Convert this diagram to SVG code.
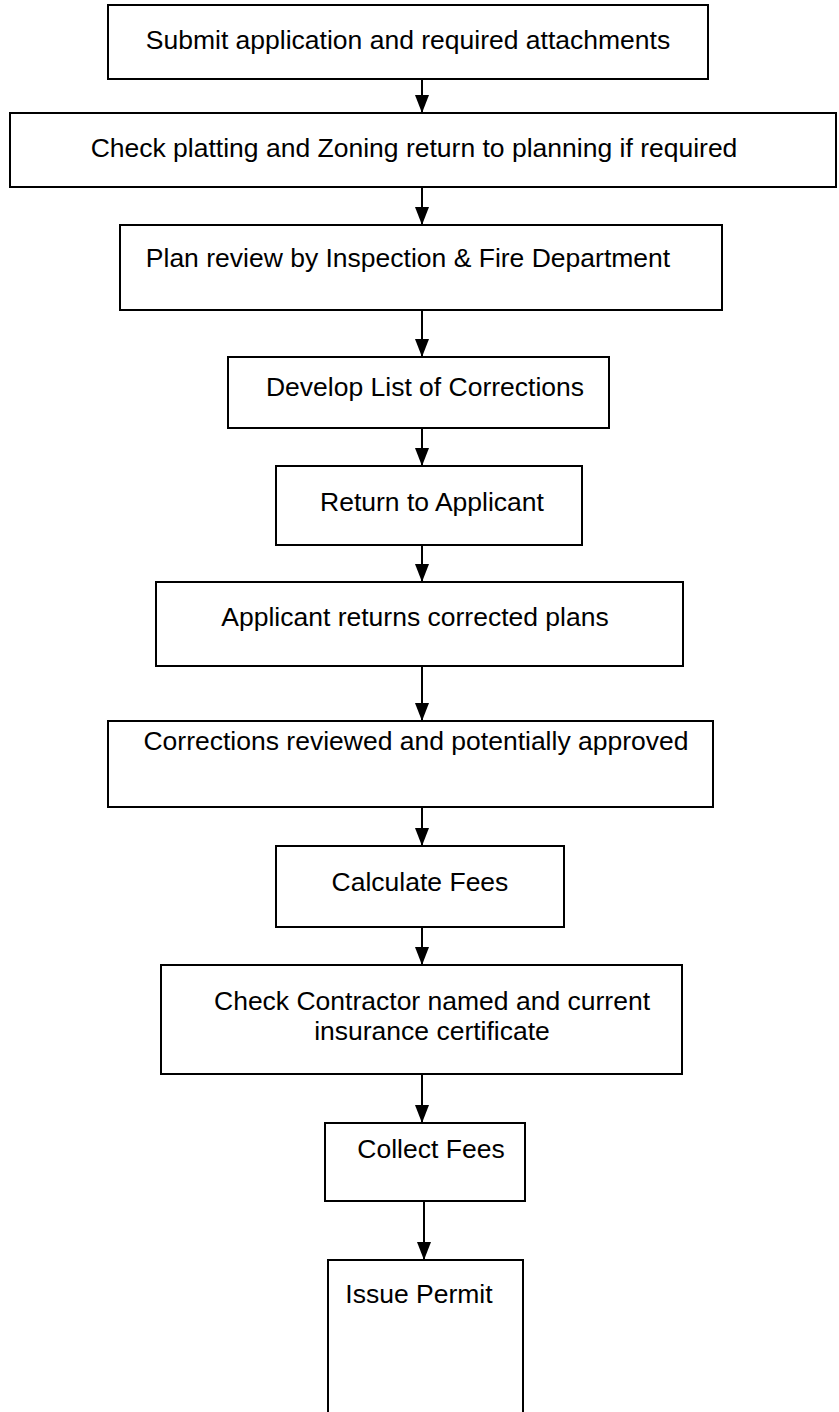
<svg xmlns="http://www.w3.org/2000/svg" width="839" height="1412" viewBox="0 0 839 1412">
<style>
.box{fill:#fff;stroke:#000;stroke-width:2}
.t{font-family:"Liberation Sans",Arial,sans-serif;font-size:26.5px;fill:#000;text-anchor:middle}
.c{stroke:#000;stroke-width:2;fill:none;marker-end:url(#ah)}
</style>
<defs>
<marker id="ah" markerWidth="18" markerHeight="14" refX="18" refY="7" orient="auto" markerUnits="userSpaceOnUse" viewBox="0 0 18 14">
<path d="M0,0 L18,7 L0,14 Z" fill="#000"/>
</marker>
</defs>
<rect width="839" height="1412" fill="#fff"/>
<g id="connectors">
<line class="c" x1="422" y1="79" x2="422" y2="113"/>
<line class="c" x1="422" y1="187" x2="422" y2="225"/>
<line class="c" x1="422" y1="310" x2="422" y2="357"/>
<line class="c" x1="422" y1="428" x2="422" y2="466"/>
<line class="c" x1="422" y1="545" x2="422" y2="582"/>
<line class="c" x1="422" y1="666" x2="422" y2="721"/>
<line class="c" x1="422" y1="807" x2="422" y2="846"/>
<line class="c" x1="422" y1="927" x2="422" y2="965"/>
<line class="c" x1="422" y1="1074" x2="422" y2="1123"/>
<line class="c" x1="424" y1="1201" x2="424" y2="1260"/>
</g>
<g id="n1"><rect class="box" x="108" y="5" width="600" height="74"/><text class="t" x="408" y="49">Submit application and required attachments</text></g>
<g id="n2"><rect class="box" x="10" y="113" width="826" height="74"/><text class="t" x="414" y="157">Check platting and Zoning return to planning if required</text></g>
<g id="n3"><rect class="box" x="120" y="225" width="602" height="85"/><text class="t" x="408" y="267">Plan review by Inspection &amp; Fire Department</text></g>
<g id="n4"><rect class="box" x="228" y="357" width="381" height="71"/><text class="t" x="425" y="396">Develop List of Corrections</text></g>
<g id="n5"><rect class="box" x="276" y="466" width="306" height="79"/><text class="t" x="432" y="511">Return to Applicant</text></g>
<g id="n6"><rect class="box" x="156" y="582" width="527" height="84"/><text class="t" x="415" y="626">Applicant returns corrected plans</text></g>
<g id="n7"><rect class="box" x="108" y="721" width="605" height="86"/><text class="t" x="416" y="750">Corrections reviewed and potentially approved</text></g>
<g id="n8"><rect class="box" x="276" y="846" width="288" height="81"/><text class="t" x="420" y="891">Calculate Fees</text></g>
<g id="n9"><rect class="box" x="161" y="965" width="521" height="109"/><text class="t" x="432" y="1010">Check Contractor named and current</text><text class="t" x="432" y="1040">insurance certificate</text></g>
<g id="n10"><rect class="box" x="325" y="1123" width="200" height="78"/><text class="t" x="431" y="1158">Collect Fees</text></g>
<g id="n11"><rect class="box" x="328" y="1260" width="195" height="170"/><text class="t" x="419" y="1303">Issue Permit</text></g>
</svg>
